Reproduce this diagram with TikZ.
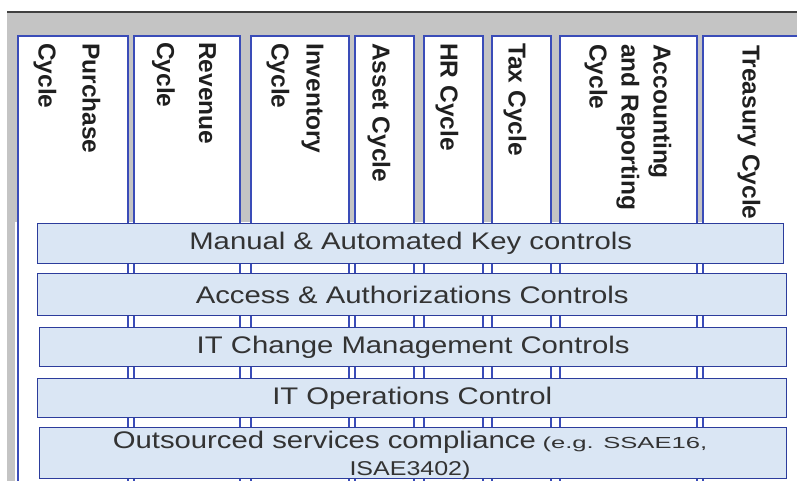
\documentclass[tikz,border=0pt]{standalone}
\usepackage{fontspec}
\setmainfont{Liberation Sans}
\definecolor{panelgray}{HTML}{C4C4C4}
\definecolor{edgeblue}{HTML}{3A4CB8}
\definecolor{barblue}{HTML}{2C3C9C}
\definecolor{barfill}{HTML}{DAE6F4}
\definecolor{bartext}{HTML}{333333}
\newcommand{\widen}[2]{\scalebox{#1}[1]{#2}}

\begin{document}
\begin{tikzpicture}[x=1pt,y=-1pt,
  cyc/.style={draw=edgeblue, line width=1.8pt, fill=white, anchor=north west, minimum height=470pt, inner sep=0pt},
  cyctxt/.style={rotate=-90, anchor=west, inner sep=0pt, align=left, text=black!88, font=\bfseries\fontsize{24.5}{36}\selectfont},
  ctrl/.style={draw=barblue, line width=1.4pt, fill=barfill, anchor=north west, inner sep=0pt, text=bartext, font=\fontsize{24}{28}\selectfont}]
\clip (0,0) rectangle (797,481);
\fill[white] (0,0) rectangle (797,481);
\fill[panelgray] (7,12) rectangle (797,481);
\draw[black!75, line width=1.5pt] (7,12) -- (797,12);
\fill[white] (15,222) rectangle (797,481);

% cycles
\node[cyc, minimum width=110pt] (purch) at (17,35){};
\node[cyc, minimum width=106pt] (reven) at (133,35){};
\node[cyc, minimum width=98pt] (inven) at (250,35){};
\node[cyc, minimum width=59pt] (asset) at (354,35){};
\node[cyc, minimum width=59pt] (hr) at (423,35){};
\node[cyc, minimum width=59pt] (tax) at (491,35){};
\node[cyc, minimum width=137pt] (accrep) at (559,35){};
\node[cyc, minimum width=108pt] (treas) at (702,35){};

\node[cyctxt, font=\bfseries\fontsize{24.5}{44}\selectfont] (purchT) at (67,43){Purchase\\Cycle};
\node[cyctxt, font=\bfseries\fontsize{24.5}{42}\selectfont] (revenT) at (184,42){Revenue\\Cycle};
\node[cyctxt, font=\bfseries\fontsize{24.5}{35}\selectfont] (invenT) at (295,43){Inventory\\Cycle};
\node[cyctxt] (assetT) at (379,43){Asset Cycle};
\node[cyctxt] (hrT) at (447,43){HR Cycle};
\node[cyctxt] (taxT) at (515,43){Tax Cycle};
\node[cyctxt, font=\bfseries\fontsize{24.5}{32}\selectfont] (accrepT) at (628,44){Accounting\\and Reporting\\Cycle};
\node[cyctxt] (treasT) at (749,45){Treasury Cycle};

% control layers
\node[ctrl, minimum width=746pt, minimum height=40pt] (mak) at (37,223){\widen{1.22}{Manual \& Automated Key controls}};
\node[ctrl, minimum width=749pt, minimum height=42pt] (acc) at (37,273){\widen{1.22}{Access \& Authorizations Controls}};
\node[ctrl, minimum width=747pt, minimum height=39pt] (itc) at (39,327){\widen{1.22}{IT Change Management Controls}};
\node[ctrl, minimum width=749pt, minimum height=39pt] (ito) at (37,378){\widen{1.22}{IT Operations Control}};
\node[ctrl, minimum width=747pt, minimum height=51pt] (outs) at (39,427){};
\node[anchor=north, inner sep=0pt, align=center, text=bartext, font=\fontsize{24}{27}\selectfont] (outsT) at (410,431)
  {\widen{1.22}{Outsourced services compliance} \widen{1.6}{\fontsize{16}{27}\selectfont(e.g. SSAE16,}\\
   \widen{1.25}{\fontsize{20}{27}\selectfont ISAE3402)}};

\end{tikzpicture}
\end{document}
